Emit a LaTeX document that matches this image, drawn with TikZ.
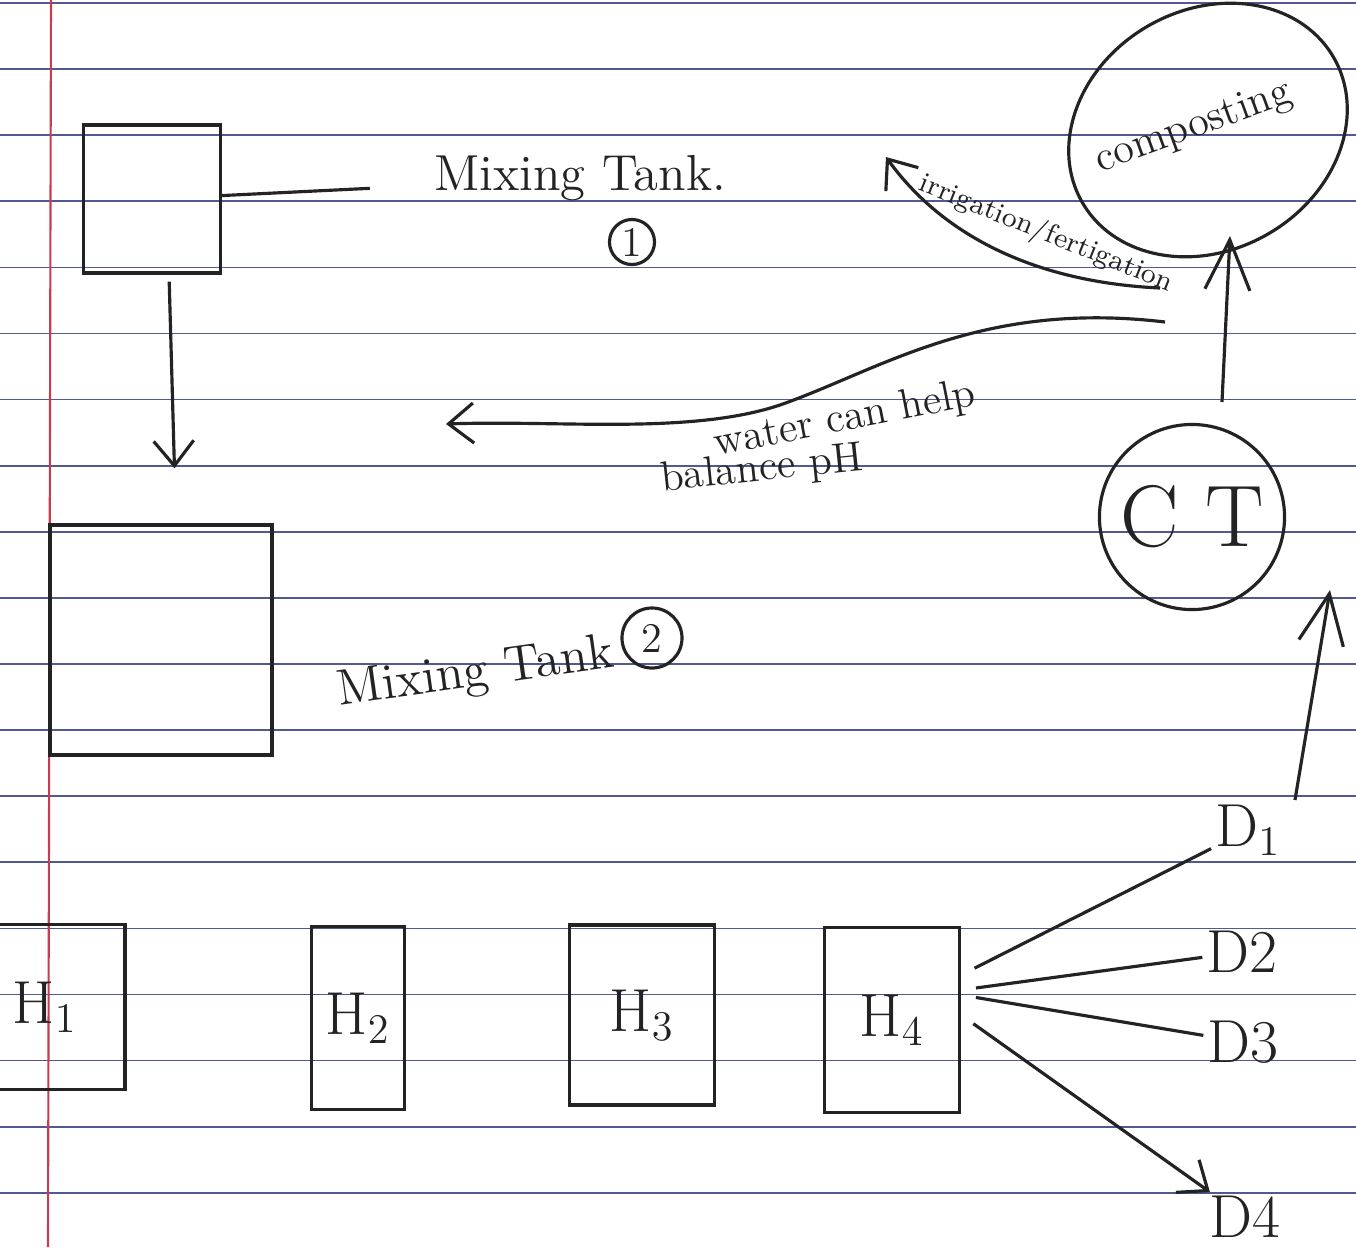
\documentclass[tikz,border=0pt]{standalone}
\usepackage{amsmath}
\usetikzlibrary{shapes.geometric,arrows.meta}
\definecolor{pencil}{RGB}{35,35,35}
\definecolor{ruling}{RGB}{80,90,145}
\definecolor{margin}{RGB}{200,60,80}

\begin{document}
\begin{tikzpicture}[
	x=0.01cm, y=-0.01cm,
	every node/.style = {text=pencil},
	tank/.style = {shape=rectangle, draw=pencil, line width=0.9pt, inner sep=0pt},
	note/.style = {font=\Large, inner sep=1pt},
	ring/.style = {shape=circle, draw=pencil, line width=0.9pt, inner sep=1pt},
	wire/.style = {draw=pencil, line width=0.9pt},
	flow/.style = {wire, -{Straight Barb[length=2.5mm,width=4mm]}},
	bigflow/.style = {wire, -{Straight Barb[length=5mm,width=4.5mm]}}
]
\clip (0,0) rectangle (1356,1247);
\fill[white] (0,0) rectangle (1356,1247);

% ruled paper
\foreach \k in {0,...,18}
	\draw[ruling, line width=0.5pt] (0,{3+66.1*\k}) -- (1356,{3+66.1*\k});
\draw[margin, line width=0.6pt] (51,0) -- (48,1247);

% mixing tanks
\node[tank, minimum width=1.37cm, minimum height=1.48cm] (tank1) at (152,199) {};
\node[note] (tank1lbl) at (580,178) {Mixing Tank.};
\node[ring, font=\large, minimum size=0.45cm] (tank1num) at (632,242) {1};
\node[tank, minimum width=2.22cm, minimum height=2.3cm] (tank2) at (161,640) {};
\node[note, rotate=8] (tank2lbl) at (476,674) {Mixing Tank};
\node[ring, font=\large, minimum size=0.6cm] (tank2num) at (652,638) {2};

% composting and CT
\node[shape=ellipse, draw=pencil, line width=0.9pt, minimum width=2.9cm,
	minimum height=2.4cm, inner sep=0pt, rotate=30] (compost) at (1208,130) {};
\node[note, font=\large, rotate=20] (compostlbl) at (1194,128) {composting};
\node[ring, minimum size=1.85cm, font=\Huge] (ct) at (1192,517) {C T};

% holding tanks
\node[tank, minimum width=1.6cm, minimum height=1.65cm, font=\LARGE] (h1) at (45,1007) {H$_1$};
\node[tank, minimum width=0.93cm, minimum height=1.83cm, font=\LARGE] (h2) at (358,1018) {H$_2$};
\node[tank, minimum width=1.45cm, minimum height=1.8cm, font=\LARGE] (h3) at (642,1015) {H$_3$};
\node[tank, minimum width=1.35cm, minimum height=1.85cm, font=\LARGE] (h4) at (892,1020) {H$_4$};

\node[note, font=\LARGE] (d1) at (1248,830) {D$_1$};
\node[note, font=\LARGE] (d2) at (1242,952) {D2};
\node[note, font=\LARGE] (d3) at (1243,1042) {D3};
\node[note, font=\LARGE] (d4) at (1245,1217) {D4};

% connectors
\draw[wire, shorten >=0.6cm] (tank1) -- (tank1lbl);
\draw[flow, shorten <=0.07cm, shorten >=0.55cm] ([xshift=0.17cm]tank1.south) -- ([xshift=0.15cm]tank2.north);

\coordinate (irrfrom) at (1160,288);
\coordinate (irrto) at (886,157);
\draw[flow] (irrfrom) .. controls (1030,282) and (940,232) .. (irrto);
\node[note, font=\footnotesize, rotate=-22] (irrlbl) at (1046,234) {irrigation/fertigation};

\coordinate (wfrom) at (1165,322);
\coordinate (wto) at (446,424);
\draw[flow] (wfrom) .. controls (980,300) and (880,370) .. (780,405)
	.. controls (690,435) and (560,420) .. (wto);
\node[note, font=\large, rotate=11] (wlbl1) at (845,420) {water can help};
\node[note, font=\large, rotate=6] (wlbl2) at (762,470) {balance pH};

\coordinate (ctup) at (1222,402);
\coordinate (cpdown) at (1230,236);
\draw[bigflow] (ctup) -- (cpdown);
\coordinate (d1up) at (1295,800);
\coordinate (ctside) at (1330,590);
\draw[bigflow] (d1up) -- (ctside);

\draw[wire, shorten <=0.15cm] ([yshift=0.45cm]h4.east) -- (d1);
\draw[wire, shorten <=0.15cm] ([yshift=0.3cm]h4.east) -- (d2);
\draw[wire, shorten <=0.15cm] ([yshift=0.25cm]h4.east) -- (d3);
\draw[flow, shorten <=0.15cm] ([yshift=0.05cm]h4.east) -- (d4);
\end{tikzpicture}
\end{document}
